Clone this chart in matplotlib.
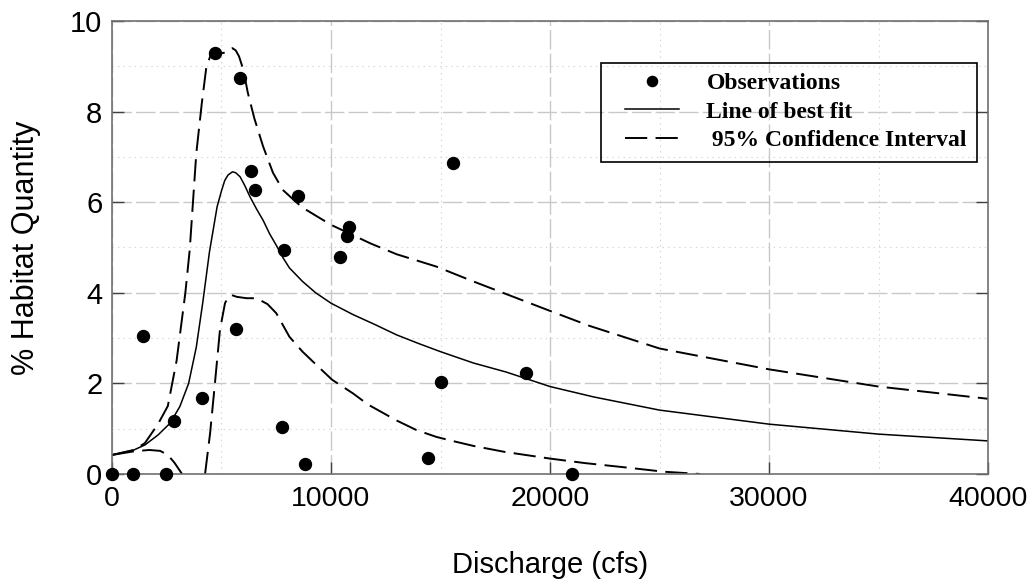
import numpy as np
import matplotlib
matplotlib.use("Agg")
import matplotlib.pyplot as plt
from matplotlib.patches import Rectangle
from matplotlib.ticker import MultipleLocator

# observed habitat quantity vs discharge
obs_q = [0, 950, 2450, 1400, 2850, 4100, 4700, 5850, 5650, 6350, 6550, 8500,
         7850, 7750, 8800, 10400, 10800, 10750, 15550, 15000, 14450, 18900, 21000]
obs_h = [0, 0, 0, 3.05, 1.18, 1.67, 9.29, 8.75, 3.20, 6.69, 6.27, 6.14,
         4.94, 1.04, 0.21, 4.79, 5.45, 5.25, 6.87, 2.04, 0.35, 2.22, 0]

# fitted curve
fit_q = [0, 1000, 1500, 2100, 2650, 3100, 3500, 3850, 4150, 4450, 4800, 5000,
         5150, 5300, 5500, 5650, 5850, 6050, 6300, 6600, 6900, 7200, 7500,
         7800, 8100, 8700, 9300, 10000, 11000, 12000, 13000, 14000, 15000,
         16500, 18000, 20000, 22000, 25000, 30000, 35000, 40000]
fit_h = [0.42, 0.53, 0.64, 0.86, 1.12, 1.49, 2.0, 2.8, 3.8, 4.9, 5.9, 6.25,
         6.48, 6.6, 6.67, 6.65, 6.56, 6.38, 6.12, 5.85, 5.6, 5.3, 5.05,
         4.78, 4.55, 4.25, 4.0, 3.77, 3.52, 3.30, 3.07, 2.88, 2.70,
         2.45, 2.25, 1.93, 1.70, 1.41, 1.10, 0.88, 0.73]

# upper 95% confidence bound
upper_q = [0, 1000, 1500, 2100, 2550, 2950, 3350, 3550, 3850, 4100, 4300, 4550,
           4850, 5150, 5350, 5500, 5650, 5800, 6000, 6200, 6500, 6900, 7350,
           7800, 8300, 8700, 10000, 11800, 13000, 14800, 16500, 17900, 20000,
           21800, 25000, 30000, 35000, 40000]
upper_h = [0.42, 0.53, 0.68, 1.1, 1.5, 2.5, 4.0, 4.95, 7.08, 8.18, 8.95, 9.32,
           9.28, 9.3, 9.37, 9.40, 9.35, 9.22, 8.92, 8.42, 7.85, 7.23, 6.65,
           6.27, 6.05, 5.88, 5.50, 5.09, 4.85, 4.58, 4.25, 3.99, 3.60,
           3.27, 2.77, 2.31, 1.93, 1.66]

# lower 95% confidence bound (gap where it drops below zero)
lower_q = [0, 1000, 1700, 2200, 2550, 2850, 3200, np.nan, 4250, 4480, 4700,
           4930, 5160, 5300, 5460, 5700, 6150, 6600, 7100, 7500, 8100, 8700,
           9350, 10050, 11000, 11700, 13000, 13900, 14800, 15450, 16500,
           17900, 20000, 21600, 23350, 25200, 26850]
lower_h = [0.42, 0.50, 0.53, 0.51, 0.42, 0.25, 0.0, np.nan, 0.0, 0.9, 2.0,
           3.18, 3.77, 3.9, 3.95, 3.91, 3.88, 3.88, 3.75, 3.55, 3.03, 2.70,
           2.40, 2.08, 1.78, 1.53, 1.18, 0.97, 0.82, 0.74, 0.62,
           0.49, 0.34, 0.24, 0.15, 0.05, 0.0]

plt.rcParams["lines.scale_dashes"] = False

fig = plt.figure(figsize=(10.33, 5.81), dpi=100)
ax = fig.add_axes([0.1084, 0.1842, 0.8481, 0.7797])

ax.plot(obs_q, obs_h, "o", color="black", markersize=8.6, clip_on=False,
        zorder=5, label="Observations")
ax.plot(fit_q, fit_h, "-", color="black", lw=1.1, label="Line of best fit")
ax.plot(upper_q, upper_h, color="black", lw=1.4, dashes=(16, 6),
        label=" 95% Confidence Interval")
ax.plot(lower_q, lower_h, color="black", lw=1.4, dashes=(16, 6))

ax.set_xlim(0, 40000)
ax.set_ylim(0, 10)
ax.xaxis.set_major_locator(MultipleLocator(10000))
ax.xaxis.set_minor_locator(MultipleLocator(5000))
ax.yaxis.set_major_locator(MultipleLocator(2))
ax.yaxis.set_minor_locator(MultipleLocator(1))

ax.grid(which="major", color="#c8c8c8", lw=1.0, dashes=(14, 3))
ax.grid(which="minor", color="#d4d4d4", lw=0.8, linestyle=(0, (1, 3)))
ax.set_axisbelow(True)

for side in ax.spines.values():
    side.set_color("#707070")
    side.set_linewidth(1.2)

ax.tick_params(which="major", direction="in", length=8.5, width=1.0,
               color="#404040", left=True, right=True, bottom=True, top=False)
ax.tick_params(which="minor", length=0)
ax.tick_params(axis="x", labelsize=20.5, pad=9)
ax.tick_params(axis="y", labelsize=21, pad=7)
for lab in ax.get_xticklabels() + ax.get_yticklabels():
    lab.set_family("Liberation Sans")

ax.set_xlabel("Discharge (cfs)", fontsize=21, family="Liberation Sans", va="center")
ax.xaxis.set_label_coords(0.5, -0.2)
ax.set_ylabel("% Habitat Quantity", fontsize=22, family="Liberation Sans", va="center")
ax.yaxis.set_label_coords(-0.098, 0.5)

# legend entries without frame, boxed by a separate rectangle
leg = ax.legend(loc="upper left", bbox_to_anchor=(0.5856, 0.886),
                borderaxespad=0, borderpad=0, frameon=False,
                prop={"family": "Liberation Serif", "weight": "bold", "size": 17},
                handlelength=2.3, handletextpad=1.15, labelspacing=0.29,
                markerscale=0.85)
ax.add_patch(Rectangle((0.5582, 0.6887), 0.4292, 0.2179, transform=ax.transAxes,
                       fill=False, edgecolor="black", lw=1.2, zorder=6))

fig.savefig("out.png", dpi=100, facecolor="white")
